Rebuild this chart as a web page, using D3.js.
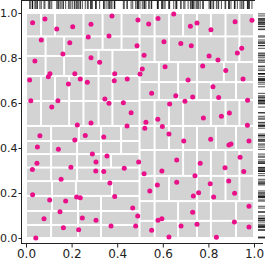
<!DOCTYPE html>
<html>
<head>
<meta charset="utf-8">
<script src="https://cdn.jsdelivr.net/npm/d3@7"></script>
<style>
  body { margin: 0; background: #fff; }
  text { font-family: "DejaVu Sans", sans-serif; }
</style>
</head>
<body>
<div id="chart"></div>
<script>
// point positions (data units, 0..1)
const xs = [0.029,0.083,0.135,0.205,0.285,0.377,0.067,0.192,0.273,0.364,0.039,0.162,0.285,0.323,0.016,0.098,0.105,0.214,0.238,0.186,
  0.269,0.389,0.387,0.444,0.021,0.140,0.113,0.346,0.364,0.427,0.461,0.225,0.285,0.443,0.491,0.538,0.579,0.648,0.721,0.750,
  0.811,0.917,0.991,0.487,0.605,0.679,0.725,0.518,0.803,0.842,0.927,0.946,0.510,0.500,0.610,0.775,0.876,0.711,0.952,0.551,
  0.657,0.731,0.697,0.820,0.845,0.972,0.630,0.526,0.578,0.778,0.857,0.892,0.521,0.598,0.971,0.061,0.214,0.260,0.341,0.050,
  0.142,0.291,0.355,0.048,0.028,0.197,0.307,0.306,0.341,0.431,0.154,0.368,0.029,0.104,0.174,0.222,0.238,0.389,0.468,0.149,
  0.079,0.247,0.307,0.164,0.231,0.373,0.043,0.627,0.692,0.810,0.890,0.899,0.978,0.494,0.661,0.764,0.939,0.518,0.596,0.741,
  0.873,0.955,0.543,0.576,0.661,0.808,0.889,0.757,0.734,0.823,0.915,0.978,0.490,0.579,0.596,0.731,0.481,0.551,0.680,0.750,
  0.914,0.978,0.627,0.835];
const ys = [0.957,0.973,0.929,0.939,0.950,0.987,0.880,0.868,0.893,0.898,0.787,0.818,0.801,0.781,0.702,0.717,0.730,0.730,0.707,0.684,
  0.692,0.730,0.699,0.707,0.610,0.610,0.582,0.618,0.599,0.601,0.557,0.502,0.511,0.498,0.969,0.951,0.976,0.996,0.941,0.956,
  0.926,0.961,0.968,0.855,0.872,0.864,0.855,0.812,0.809,0.791,0.822,0.843,0.751,0.729,0.761,0.764,0.744,0.702,0.707,0.643,
  0.632,0.627,0.608,0.672,0.624,0.612,0.596,0.514,0.528,0.533,0.541,0.556,0.488,0.496,0.501,0.455,0.436,0.456,0.449,0.404,
  0.394,0.373,0.364,0.332,0.304,0.314,0.338,0.298,0.296,0.310,0.261,0.244,0.192,0.169,0.164,0.182,0.179,0.185,0.133,0.117,
  0.086,0.089,0.079,0.046,0.037,0.053,0.000,0.462,0.431,0.439,0.413,0.418,0.431,0.338,0.347,0.332,0.359,0.286,0.298,0.277,
  0.312,0.296,0.209,0.236,0.248,0.241,0.253,0.201,0.187,0.182,0.199,0.141,0.098,0.079,0.086,0.114,0.053,0.034,0.053,0.061,
  0.071,0.049,0.004,0.003];

// background partition: strips [x0, x1, yTop, yBottom, inner x splits]
const strips = [
  [0, 1, 1.0, 0.896, [0.066,0.127,0.252,0.336,0.419,0.498,0.564,0.627,0.689,0.75,0.811,0.875,0.936]],
  [0, 0.252, 0.896, 0.809, [0.086,0.167]],
  [0, 0.252, 0.809, 0.72, [0.086,0.167]],
  [0.252, 0.498, 0.896, 0.836, [0.336,0.419]],
  [0.252, 0.498, 0.836, 0.72, [0.318,0.379]],
  [0.498, 1, 0.896, 0.782, [0.564,0.627,0.75,0.875,0.936]],
  [0.498, 1, 0.782, 0.693, [0.583,0.667,0.75,0.868,0.921]],
  [0.498, 1, 0.693, 0.613, [0.583,0.667,0.75,0.811,0.921]],
  [0.498, 1, 0.613, 0.498, [0.564,0.627,0.689,0.811,0.875,0.936]],
  [0, 0.498, 0.72, 0.609, [0.066,0.127,0.189,0.252,0.318,0.379]],
  [0, 0.498, 0.609, 0.498, [0.066,0.189,0.252,0.318,0.379]],
  [0, 0.498, 0.498, 0.431, [0.110,0.232,0.329,0.417]],
  [0, 0.498, 0.431, 0.373, [0.110,0.224,0.329,0.417]],
  [0, 0.498, 0.373, 0.313, [0.110,0.224,0.329,0.373]],
  [0, 0.498, 0.313, 0.253, [0.110,0.224,0.329]],
  [0, 0.498, 0.253, 0.187, [0.114,0.219,0.377]],
  [0, 0.498, 0.187, 0.12, [0.114,0.228,0.329]],
  [0, 0.498, 0.12, 0.058, [0.110,0.228,0.329]],
  [0, 0.498, 0.058, 0, [0.110,0.228,0.329]],
  [0.498, 1, 0.498, 0.391, [0.564,0.627,0.689,0.75,0.833,0.921]],
  [0.498, 1, 0.391, 0.276, [0.564,0.689,0.75,0.811,0.875,0.936]],
  [0.498, 1, 0.276, 0.164, [0.564,0.627,0.75,0.811,0.875,0.936]],
  [0.498, 1, 0.164, 0.076, [0.564,0.667,0.75,0.811,0.921]],
  [0.498, 1, 0.076, 0, [0.564,0.667,0.75,0.811,0.921]]
];

const tickVals = [0, 0.2, 0.4, 0.6, 0.8, 1.0];

const WIDTH = 266, HEIGHT = 260;

const svg = d3.select("#chart").append("svg")
  .attr("width", WIDTH)
  .attr("height", HEIGHT);

const x = d3.scaleLinear().domain([0, 1]).range([26, 254]);
const y = d3.scaleLinear().domain([0, 1]).range([238, 13]);

// turn the strips into cells
const cells = [];
strips.forEach(s => {
  const edges = [s[0], ...s[4], s[1]];
  for (let i = 0; i < edges.length - 1; i++) {
    cells.push({ x0: edges[i], x1: edges[i + 1], y0: s[3], y1: s[2] });
  }
});

const pad = 1;
svg.append("g").selectAll("rect")
  .data(cells)
  .enter()
  .append("rect")
  .attr("x", d => x(d.x0) + pad)
  .attr("y", d => y(d.y1) + pad)
  .attr("width", d => Math.max(0, x(d.x1) - x(d.x0) - 2 * pad))
  .attr("height", d => Math.max(0, y(d.y0) - y(d.y1) - 2 * pad))
  .attr("fill", "#d3d3d3");

const points = xs.map((v, i) => ({ x: v, y: ys[i] }));

// points
svg.append("g").selectAll("circle")
  .data(points)
  .enter()
  .append("circle")
  .attr("cx", d => x(d.x))
  .attr("cy", d => y(d.y))
  .attr("r", 2.5)
  .attr("fill", "#e8118a");

// rugs (top for x, right for y)
svg.append("g").selectAll("line")
  .data(points)
  .enter()
  .append("line")
  .attr("x1", d => x(d.x)).attr("x2", d => x(d.x))
  .attr("y1", 1).attr("y2", 9)
  .attr("stroke", "#000")
  .attr("stroke-opacity", 0.7);

svg.append("g").selectAll("line")
  .data(points)
  .enter()
  .append("line")
  .attr("y1", d => y(d.y)).attr("y2", d => y(d.y))
  .attr("x1", 258).attr("x2", 265)
  .attr("stroke", "#000")
  .attr("stroke-opacity", 0.7);

// axes, offset out from the data like detached spines
const fmt = d3.format(".1f");
const yAxis = svg.append("g")
  .attr("transform", "translate(21.5,0)")
  .call(d3.axisLeft(y).tickValues(tickVals).tickFormat(fmt).tickSize(3).tickPadding(1));
const xAxis = svg.append("g")
  .attr("transform", "translate(0,243.5)")
  .call(d3.axisBottom(x).tickValues(tickVals).tickFormat(fmt).tickSize(4).tickPadding(2));

[yAxis, xAxis].forEach(g => {
  g.select(".domain").remove();
  g.selectAll("text").attr("font-size", "11px").attr("fill", "#222").attr("font-family", "DejaVu Sans");
  g.selectAll("line").attr("stroke", "#222");
});
xAxis.selectAll("text").attr("font-size", "12px");

// spines
svg.append("line").attr("x1", 21.5).attr("x2", 21.5).attr("y1", 0).attr("y2", 244).attr("stroke", "#222");
svg.append("line").attr("x1", 21).attr("x2", 263).attr("y1", 243.5).attr("y2", 243.5).attr("stroke", "#222");
svg.append("line").attr("x1", 21).attr("x2", 255).attr("y1", 0.5).attr("y2", 0.5).attr("stroke", "#222");
</script>
</body>
</html>
